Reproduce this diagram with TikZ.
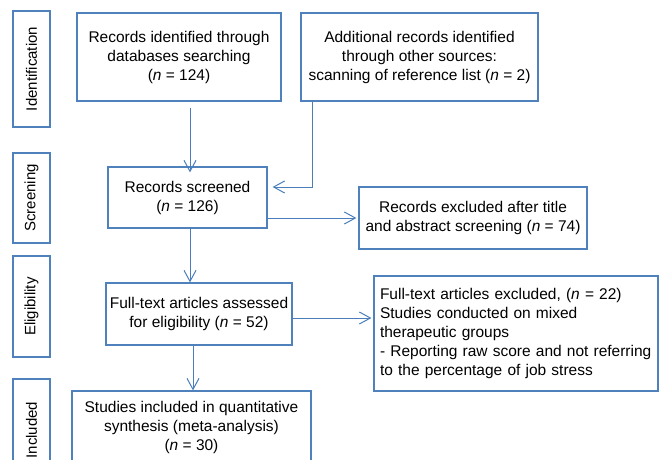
\documentclass[tikz,border=0pt]{standalone}
\usepackage{fontspec}
\setmainfont{Liberation Sans}
\usetikzlibrary{arrows.meta}
\definecolor{boxblue}{RGB}{79,129,189}
\definecolor{arrblue}{RGB}{74,126,187}
\hyphenpenalty=10000

\begin{document}
\begin{tikzpicture}[x=1pt,y=-1pt,
  box/.style={draw=boxblue,line width=1.2pt,align=center,inner sep=0pt,font=\fontsize{15.5}{19}\selectfont},
  side/.style={draw=boxblue,line width=1.2pt,rotate=90,minimum height=37pt,inner sep=0pt,font=\fontsize{15}{18}\selectfont},
  arr/.style={draw=arrblue,line width=1pt,-{Straight Barb[length=11pt,width=12pt]}}]
\useasboundingbox (0,0) rectangle (659,459);
\clip (0,0) rectangle (659,459);

% phase labels
\node[side,minimum width=116pt] (sident) at (31.5,69) {Identification};
\node[side,minimum width=90pt] (sscreen) at (31.5,198) {Screening};
\node[side,minimum width=101pt] (selig) at (31.5,306.5) {Eligibility};
\node[side,minimum width=102pt] (sincl) at (31.5,430) {Included};

% boxes
\node[box,minimum width=204pt,minimum height=88pt] (ident) at (179,57) {Records identified through\\databases searching\\(\textit{n} = 124)};
\node[box,minimum width=237pt,minimum height=88pt] (extra) at (419.5,57) {Additional records identified\\through other sources:\\scanning of reference list (\textit{n} = 2)};
\node[box,minimum width=159pt,minimum height=61pt] (screened) at (187.5,197.5) {Records screened\\(\textit{n} = 126)};
\node[box,minimum width=228pt,minimum height=62pt] (excla) at (473,218) {Records excluded after title\\and abstract screening (\textit{n} = 74)};
\node[box,minimum width=186pt,minimum height=62pt] (fulltext) at (199,314) {Full-text articles assessed\\for eligibility (\textit{n} = 52)};
\node[box,align=left,text width=272pt,inner xsep=6pt,minimum height=115pt] (exclb) at (516,333.5) {Full-text articles excluded, (\textit{n} = 22)\\Studies conducted on mixed\\therapeutic groups\\\mbox{- Reporting raw score and not referring}\\to the percentage of job stress};
\node[box,minimum width=239pt,minimum height=72pt] (incl) at (191.5,427) {Studies included in quantitative\\synthesis (meta-analysis)\\(\textit{n} = 30)};

% connectors
\draw[arr] ([xshift=11pt,yshift=-6pt]ident.south) -- ([xshift=11pt,yshift=-6pt]ident.south |- screened.north);
\draw[arr] ([xshift=-107.5pt]extra.south) |- ([xshift=5pt,yshift=10.5pt]screened.east);
\draw[arr] (screened.east |- excla.west) -- ([xshift=-2pt]excla.west);
\draw[arr] ([xshift=2.5pt]screened.south) -- ([xshift=2.5pt]screened.south |- fulltext.north);
\draw[arr] ([yshift=-4pt]fulltext.east) -- ([yshift=-4pt,xshift=-2pt]fulltext.east -| exclb.west);
\draw[arr] ([xshift=-6pt]fulltext.south) -- ([xshift=-6pt]fulltext.south |- incl.north);

\end{tikzpicture}
\end{document}
